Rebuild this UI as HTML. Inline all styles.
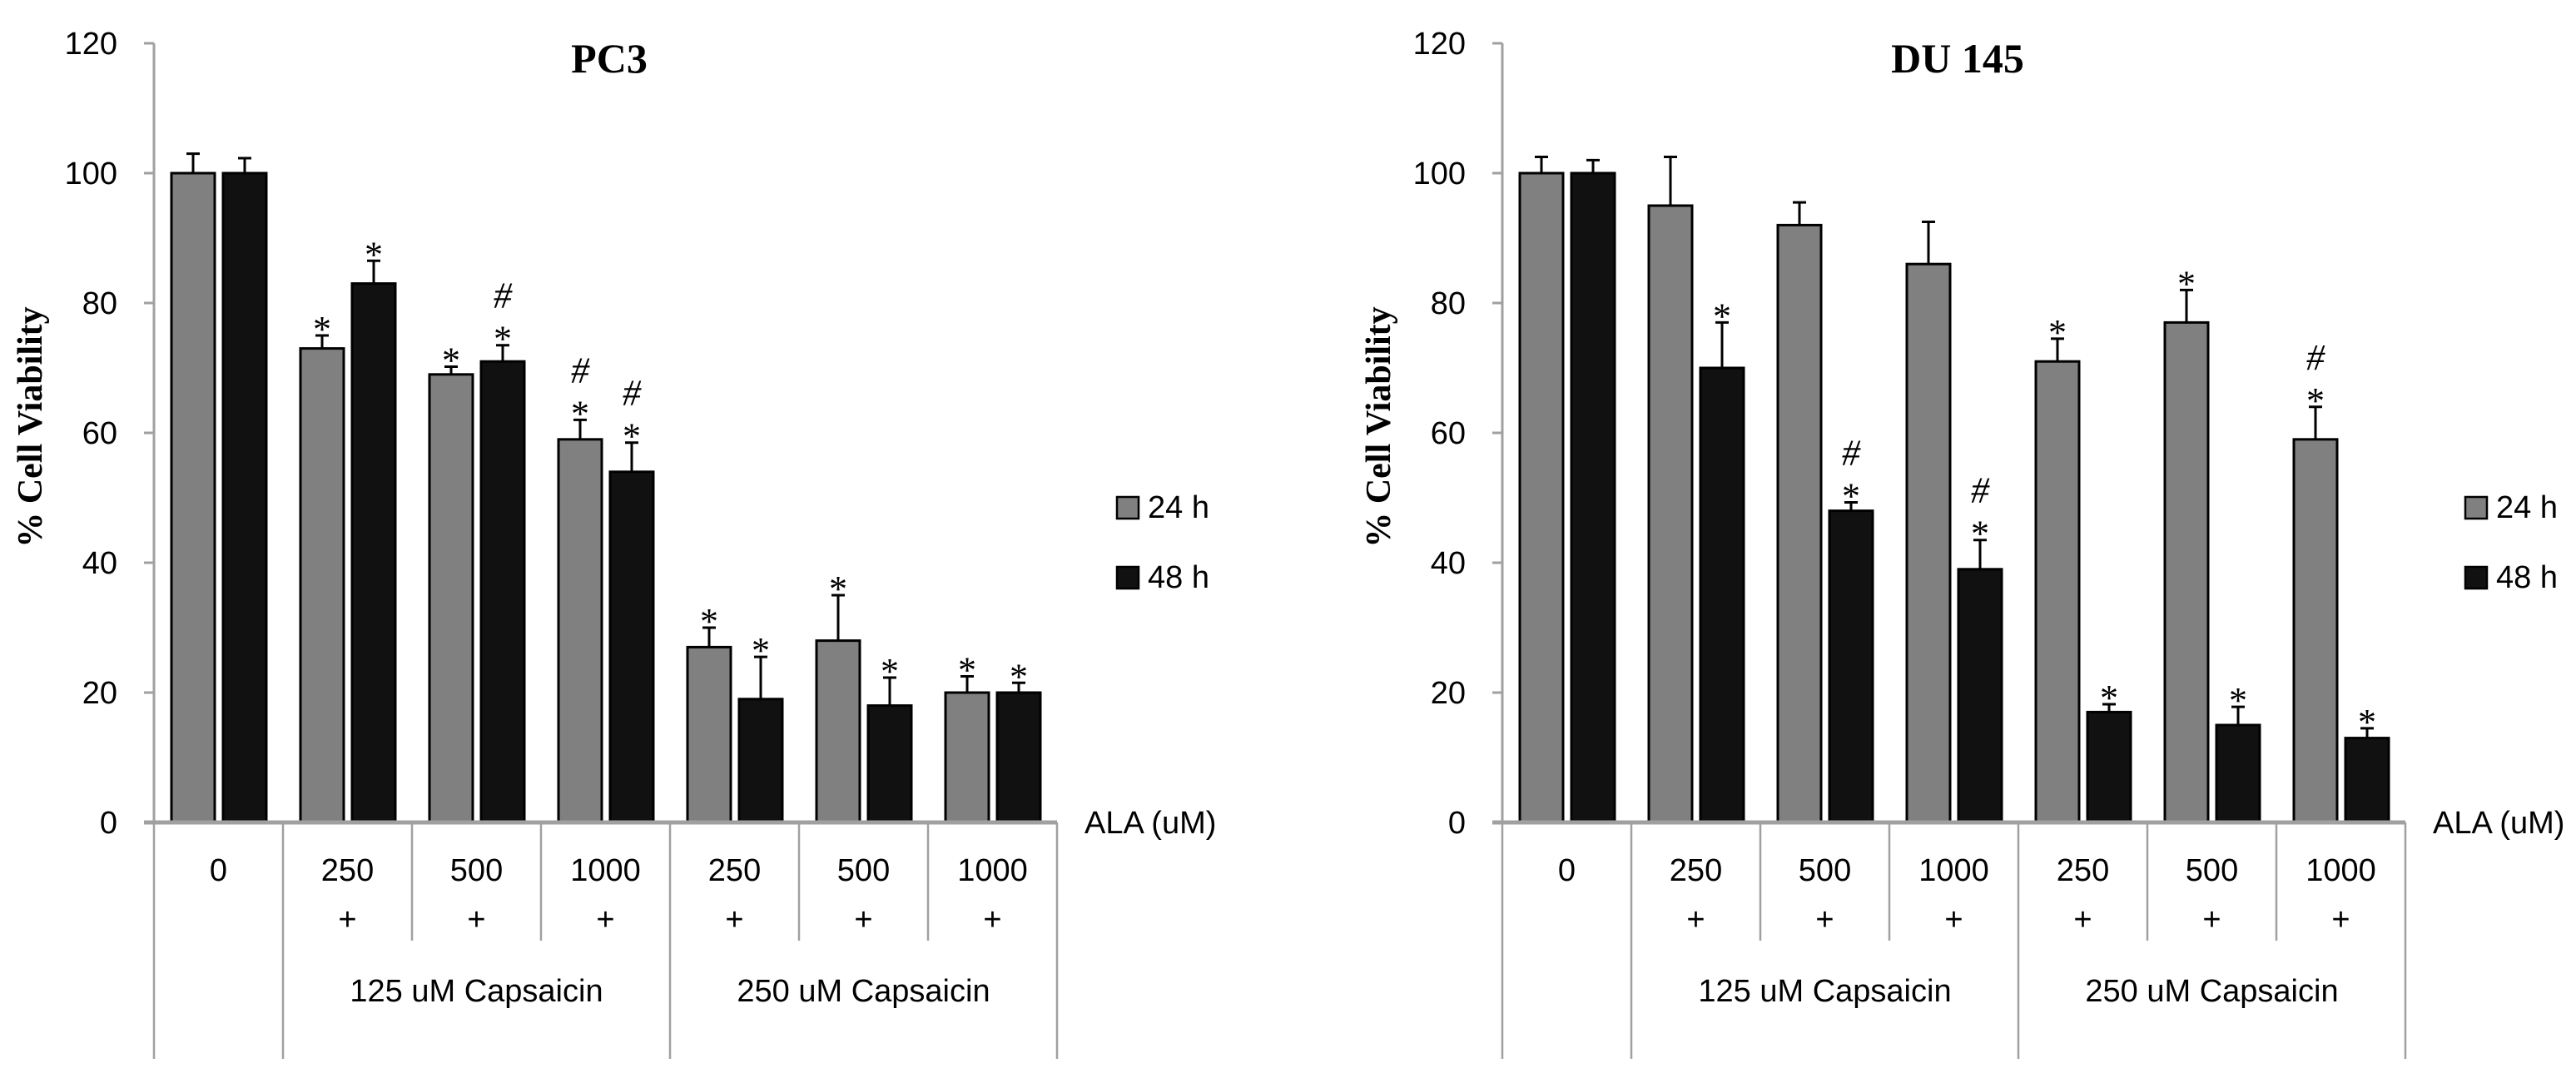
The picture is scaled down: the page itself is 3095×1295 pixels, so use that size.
<!DOCTYPE html>
<html><head><meta charset="utf-8"><style>
html,body{margin:0;padding:0;background:#fff;}
svg{display:block;}
</style></head><body>
<svg id="chart" width="3095" height="1295" viewBox="0 0 3095 1295" xmlns="http://www.w3.org/2000/svg"></svg>
<script>
const categories = ['0','250','500','1000','250','500','1000'];
const plusRow = ['','+','+','+','+','+','+'];
const groupLabels = ['125 uM Capsaicin','250 uM Capsaicin'];
const yTicks = [0,20,40,60,80,100,120];
const pc3_24 = [100,73,69,59,27,28,20];
const pc3_24err = [3,2,1.2,3,3,7,2.5];
const pc3_48 = [100,83,71,54,19,18,20];
const pc3_48err = [2.3,3.5,2.5,4.5,6.5,4.3,1.5];
const du_24 = [100,95,92,86,71,77,59];
const du_24err = [2.5,7.5,3.5,6.5,3.5,5,5];
const du_48 = [100,70,48,39,17,15,13];
const du_48err = [2,7,1.3,4.5,1.2,2.8,1.5];
const pc3_24sig = ['','*','*','#*','*','*','*'];
const pc3_48sig = ['','*','#*','#*','*','*','*'];
const du_24sig = ['','','','','*','*','#*'];
const du_48sig = ['','*','#*','#*','*','*','*'];

const NS='http://www.w3.org/2000/svg';
const svg=document.getElementById('chart');
function mk(tag,attrs,parent){const e=document.createElementNS(NS,tag);for(const k in attrs)e.setAttribute(k,attrs[k]);(parent||svg).appendChild(e);return e;}
const SANS='"Liberation Sans", sans-serif', SERIF='"Liberation Serif", serif';

function panel(ox,title,s24,e24,s48,e48,sig24,sig48,key){
  const g=mk('g',{});
  
  
  const x0=ox, y0=988, yTop=52, cw=155;
  const y=v=>y0-(v/120)*(y0-yTop);
  const cx=i=>x0+i*cw;
  // y axis
  const ya=mk('line',{x1:x0,y1:yTop,x2:x0,y2:y0,stroke:'#a0a0a0','stroke-width':3},g);
  
  
  yTicks.forEach(t=>{
    const tk=mk('line',{x1:x0-12,y1:y(t),x2:x0,y2:y(t),stroke:'#a0a0a0','stroke-width':3},g);
    
    
    const tl=mk('text',{x:x0-44,y:y(t)+13,'text-anchor':'end','font-family':SANS,'font-size':38,fill:'#000'},g);
    
    
    tl.textContent=t;
  });
  // bars
  for(let i=0;i<categories.length;i++){
    [[s24,e24,sig24,21,'#808080','24h'],[s48,e48,sig48,83,'#111111','48h']].forEach(([s,e,sg,off,col,nm])=>{
      const bx=cx(i)+off, bw=52, top=y(s[i]);
      const r=mk('rect',{x:bx,y:top,width:bw,height:y0-top,fill:col,stroke:'#000','stroke-width':3},g);
      
      
      const et=y(s[i]+e[i]), mx=bx+bw/2;
      const el=mk('path',{d:`M${mx},${top} V${et} M${mx-8},${et} H${mx+8}`,stroke:'#000','stroke-width':3,fill:'none'},g);
      
      
      const sym=sg[i];
      if(sym.includes('*')){
        const st=mk('text',{x:mx,y:et+7,'text-anchor':'middle','font-family':SERIF,'font-size':44,fill:'#000'},g);
        
        
        st.textContent='*';
      }
      if(sym.includes('#')){
        const hs=mk('text',{x:mx,y:et-45,'text-anchor':'middle','font-family':SERIF,'font-size':44,'font-style':'italic',fill:'#000'},g);
        
        
        hs.textContent='#';
      }
    });
  }
  // x axis
  const xa=mk('line',{x1:x0-12,y1:y0,x2:x0+7*cw,y2:y0,stroke:'#a0a0a0','stroke-width':5},g);
  
  
  for(let i=0;i<=7;i++){
    const long=(i===0||i===1||i===4||i===7);
    const dl=mk('line',{x1:cx(i),y1:y0,x2:cx(i),y2:long?1272:1130,stroke:'#a0a0a0','stroke-width':2.5},g);
    
    
  }
  categories.forEach((c,i)=>{
    const t=mk('text',{x:cx(i)+cw/2,y:1058,'text-anchor':'middle','font-family':SANS,'font-size':38,fill:'#000'},g);
    
    
    t.textContent=c;
    if(plusRow[i]){
      const p=mk('text',{x:cx(i)+cw/2,y:1117,'text-anchor':'middle','font-family':SANS,'font-size':38,fill:'#000'},g);
      
      
      p.textContent=plusRow[i];
    }
  });
  groupLabels.forEach((gl,k)=>{
    const cxm=k===0?cx(1)+1.5*cw:cx(4)+1.5*cw;
    const t=mk('text',{x:cxm,y:1203,'text-anchor':'middle','font-family':SANS,'font-size':38,fill:'#000'},g);
    
    
    t.textContent=gl;
  });
  const ala=mk('text',{x:x0+7*cw+33,y:1001,'font-family':SANS,'font-size':38,fill:'#000'},g);
  
  
  ala.textContent='ALA (uM)';
  const tt=mk('text',{x:x0+547,y:87,'text-anchor':'middle','font-family':SERIF,'font-size':50,'font-weight':'bold',fill:'#000'},g);
  
  
  tt.textContent=title;
  const yt=mk('text',{x:0,y:0,transform:`translate(${x0-135},513) rotate(-90)`,'text-anchor':'middle','font-family':SERIF,'font-size':42,'font-weight':'bold',fill:'#000'},g);
  
  
  yt.textContent='% Cell Viability';
  // legend
  [['#808080','24 h',597],['#111111','48 h',681]].forEach(([col,lab,ly])=>{
    const lg=mk('g',{},g);
    
    
    const sq=mk('rect',{x:x0+1157,y:ly,width:26,height:26,fill:col,stroke:'#000','stroke-width':2.5},lg);
    
    
    const lt=mk('text',{x:x0+1194,y:ly+25,'font-family':SANS,'font-size':38,fill:'#000'},lg);
    
    
    lt.textContent=lab;
  });
}
panel(185,'PC3',pc3_24,pc3_24err,pc3_48,pc3_48err,pc3_24sig,pc3_48sig,'pc3');
panel(1805,'DU 145',du_24,du_24err,du_48,du_48err,du_24sig,du_48sig,'du145');
</script>
</body></html>
